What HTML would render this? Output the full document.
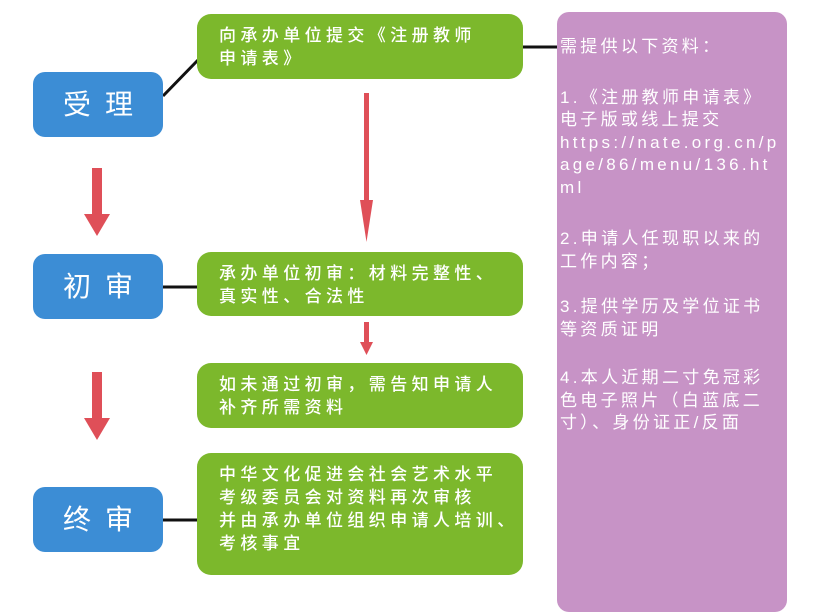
<!DOCTYPE html>
<html><head><meta charset="utf-8"><style>
body{margin:0;width:830px;height:582px;background:#fff;position:relative;overflow:hidden;font-family:"Liberation Sans","Noto Sans CJK SC",sans-serif;color:#fff}
.b{position:absolute;left:33px;width:130px;height:65px;background:#3c8dd5;border-radius:12px;font-size:28px;text-align:center;line-height:65px;letter-spacing:14px;text-indent:14px}
.g{position:absolute;left:197px;width:326px;background:#7cb82c;border-radius:14px;font-size:17px;letter-spacing:4.4px;line-height:23px;padding:10px 0 0 22px;box-sizing:border-box;font-weight:500}
.p{position:absolute;left:557px;top:12px;width:230px;height:600px;background:#c793c6;border-radius:12px;font-size:17px;letter-spacing:3.3px;line-height:22.5px;padding:24px 0 0 3px;box-sizing:border-box;word-break:break-all}
.p div{margin-bottom:29px}
</style></head><body>
<svg width="830" height="582" style="position:absolute;left:0;top:0">
<g stroke="#111" stroke-width="3"><line x1="163" y1="96" x2="198" y2="60"/><line x1="163" y1="287" x2="198" y2="287"/><line x1="163" y1="520" x2="198" y2="520"/><line x1="523" y1="47" x2="558" y2="47"/></g>
<g fill="#df4f58">
<rect x="92" y="168" width="10" height="47"/><polygon points="84,214 110,214 97,236"/>
<rect x="92" y="372" width="10" height="47"/><polygon points="84,418 110,418 97,440"/>
<rect x="364" y="93" width="5" height="110"/><polygon points="360,200 373,200 366.5,242"/>
<rect x="364" y="322" width="5" height="22"/><polygon points="360,342 373,342 366.5,355"/>
</g></svg>
<div class="b" style="top:72px">受理</div>
<div class="b" style="top:254px">初审</div>
<div class="b" style="top:487px">终审</div>
<div class="g" style="top:14px;height:65px">向承办单位提交《注册教师<br>申请表》</div>
<div class="g" style="top:252px;height:64px">承办单位初审：材料完整性、<br>真实性、合法性</div>
<div class="g" style="top:363px;height:65px">如未通过初审，需告知申请人<br>补齐所需资料</div>
<div class="g" style="top:453px;height:122px">中华文化促进会社会艺术水平<br>考级委员会对资料再次审核<br>并由承办单位组织申请人培训、<br>考核事宜</div>
<div class="p"><div style="margin-bottom:28px">需提供以下资料：</div><div style="margin-bottom:29px">1.《注册教师申请表》<br>电子版或线上提交<br>https://nate.org.cn/p<br>age/86/menu/136.ht<br>ml</div><div style="margin-bottom:23px">2.申请人任现职以来的<br>工作内容；</div><div style="margin-bottom:26px">3.提供学历及学位证书<br>等资质证明</div><div>4.本人近期二寸免冠彩<br>色电子照片（白蓝底二<br>寸）、身份证正/反面</div></div>
</body></html>
